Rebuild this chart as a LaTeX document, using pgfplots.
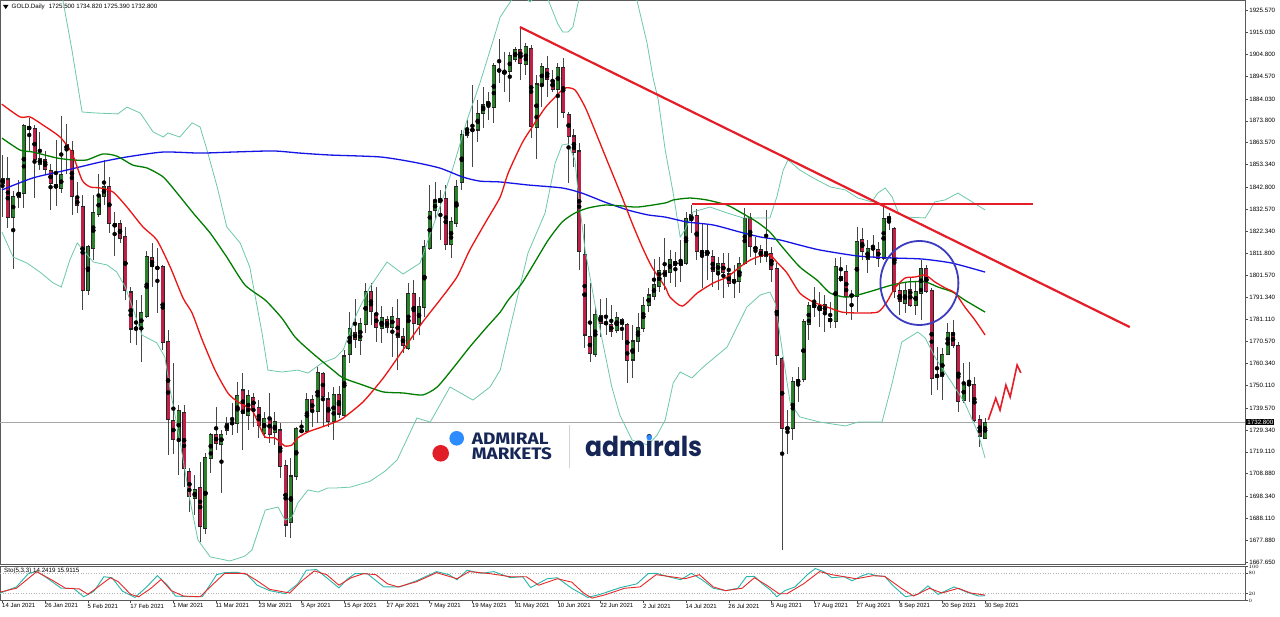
\documentclass[border=0pt]{standalone}
\usepackage{pgfplots}
\usepackage{pgfplotstable}
\pgfplotsset{compat=1.18}
\usepackage{fontspec}
\setmainfont{Liberation Sans}
\newfontfamily\logofont{Poppins}
\newfontfamily\firafont{Fira Sans}
\usepackage{graphicx}

\definecolor{upc}{RGB}{44,128,44}
\definecolor{dnc}{RGB}{190,32,72}
\definecolor{wick}{RGB}{70,70,70}
\definecolor{bbc}{RGB}{110,200,170}
\definecolor{mared}{RGB}{235,20,20}
\definecolor{magreen}{RGB}{0,125,0}
\definecolor{mablue}{RGB}{20,20,230}
\definecolor{trend}{RGB}{228,30,40}
\definecolor{circ}{RGB}{60,60,190}
\definecolor{stok}{RGB}{40,180,170}
\definecolor{stod}{RGB}{230,40,40}
\definecolor{navy}{RGB}{22,38,86}
\definecolor{lblue}{RGB}{45,140,255}
\definecolor{lred}{RGB}{225,30,40}

\newcommand{\sm}{\fontsize{6.2}{7}\selectfont}

\pgfplotstableread{
i o h l c
0 1844.6 1857.8 1829.0 1846.6
1 1846.6 1857.0 1823.5 1828.7
2 1828.7 1841.0 1804.4 1838.3
3 1838.0 1846.1 1833.2 1840.4
4 1839.9 1872.1 1832.9 1871.8
5 1871.1 1874.9 1859.4 1869.8
6 1870.3 1871.8 1837.6 1855.5
7 1853.5 1868.7 1850.8 1856.1
8 1855.5 1859.7 1848.8 1851.1
9 1850.5 1853.5 1832.1 1844.6
10 1843.8 1864.8 1834.0 1842.5
11 1842.2 1876.2 1839.9 1848.5
12 1862.5 1872.1 1848.8 1860.6
13 1860.1 1864.4 1829.8 1838.3
14 1837.3 1845.4 1830.6 1834.1
15 1833.7 1839.1 1785.4 1794.3
16 1794.3 1815.8 1792.4 1815.0
17 1814.2 1839.1 1808.7 1830.9
18 1830.1 1848.8 1829.0 1838.6
19 1838.6 1855.5 1834.4 1843.0
20 1843.3 1847.7 1821.2 1825.9
21 1825.6 1831.0 1810.8 1824.3
22 1825.6 1827.4 1816.5 1818.9
23 1819.6 1824.3 1790.1 1794.7
24 1793.8 1796.3 1769.8 1776.5
25 1777.1 1790.1 1769.0 1776.3
26 1776.5 1792.4 1761.2 1784.3
27 1782.3 1812.9 1781.5 1810.3
28 1809.8 1816.5 1796.3 1805.6
29 1805.2 1814.2 1783.8 1804.9
30 1805.6 1806.4 1766.7 1770.1
31 1770.6 1776.0 1717.6 1734.3
32 1733.7 1760.5 1718.1 1724.9
33 1724.6 1741.0 1708.3 1738.6
34 1737.6 1741.0 1702.8 1711.4
35 1709.8 1711.4 1691.1 1698.1
36 1697.4 1708.3 1689.6 1701.3
37 1702.5 1714.5 1677.1 1684.1
38 1683.3 1718.4 1680.7 1716.4
39 1716.1 1727.7 1709.0 1727.3
40 1727.0 1740.2 1720.0 1723.1
41 1722.6 1729.3 1699.7 1727.0
42 1729.3 1735.2 1727.0 1732.1
43 1732.4 1741.8 1727.0 1732.6
44 1732.4 1751.9 1727.7 1745.6
45 1748.0 1755.8 1720.0 1737.1
46 1736.3 1748.0 1729.3 1745.6
47 1744.6 1746.4 1730.9 1739.4
48 1739.9 1743.3 1725.4 1731.6
49 1727.7 1737.9 1725.4 1734.8
50 1734.8 1746.4 1723.1 1727.4
51 1728.1 1737.9 1722.3 1733.2
52 1729.3 1732.4 1706.7 1712.2
53 1712.9 1715.3 1679.5 1684.9
54 1686.0 1716.1 1678.7 1707.8
55 1707.5 1730.9 1705.9 1730.1
56 1728.7 1734.0 1727.7 1729.0
57 1728.5 1746.4 1727.7 1743.6
58 1743.6 1745.6 1730.9 1737.9
59 1737.9 1758.6 1732.4 1756.1
60 1755.8 1756.6 1730.9 1744.9
61 1743.8 1747.2 1730.9 1733.2
62 1733.2 1749.5 1724.6 1746.1
63 1746.1 1749.9 1734.7 1736.8
64 1736.3 1766.7 1735.5 1763.9
65 1764.4 1784.3 1760.5 1776.8
66 1774.9 1790.4 1767.5 1771.7
67 1771.0 1781.5 1764.4 1779.1
68 1778.4 1797.8 1774.5 1793.9
69 1793.9 1797.8 1778.4 1784.6
70 1783.5 1796.3 1770.6 1777.3
71 1776.8 1787.2 1769.8 1781.8
72 1781.0 1782.6 1774.5 1777.1
73 1777.3 1786.9 1763.6 1782.3
74 1781.5 1790.4 1757.3 1772.6
75 1772.9 1776.8 1765.1 1769.0
76 1767.5 1797.8 1766.7 1793.2
77 1793.2 1799.4 1771.3 1779.1
78 1778.8 1791.6 1773.7 1787.2
79 1786.6 1818.1 1782.3 1815.0
80 1814.2 1843.8 1813.4 1831.3
81 1831.8 1845.3 1827.4 1836.0
82 1835.5 1841.5 1818.1 1837.6
83 1837.3 1843.8 1813.4 1815.8
84 1815.8 1829.0 1809.5 1826.7
85 1825.6 1846.1 1824.3 1843.0
86 1844.9 1869.5 1841.5 1867.2
87 1866.8 1874.1 1865.6 1869.8
88 1869.2 1890.5 1852.4 1869.8
89 1869.5 1883.5 1864.0 1877.3
90 1877.0 1889.7 1870.3 1881.6
91 1882.7 1887.4 1874.2 1880.9
92 1880.1 1900.6 1872.9 1899.6
93 1897.9 1912.0 1891.3 1896.7
94 1896.0 1906.1 1887.4 1896.7
95 1896.7 1906.1 1882.7 1904.1
96 1902.5 1908.4 1901.4 1906.9
97 1907.2 1917.5 1892.9 1900.6
98 1899.9 1910.0 1895.2 1908.4
99 1907.7 1909.2 1865.6 1871.0
100 1870.6 1895.2 1855.8 1891.0
101 1890.5 1900.6 1880.4 1899.1
102 1898.3 1904.1 1885.1 1893.2
103 1892.4 1897.5 1887.4 1888.6
104 1888.5 1900.6 1870.3 1898.6
105 1898.6 1903.0 1874.9 1877.6
106 1876.8 1878.1 1844.6 1866.4
107 1866.7 1869.8 1852.4 1858.9
108 1859.7 1863.3 1804.1 1812.6
109 1811.4 1825.6 1767.5 1773.7
110 1772.9 1797.8 1761.2 1765.1
111 1764.4 1787.0 1763.6 1783.5
112 1782.6 1790.4 1772.9 1779.1
113 1779.5 1790.8 1773.7 1779.0
114 1778.4 1787.7 1772.9 1775.3
115 1776.0 1784.6 1774.5 1781.8
116 1781.0 1781.8 1771.3 1778.4
117 1778.4 1779.1 1751.1 1762.0
118 1762.0 1778.4 1753.4 1770.9
119 1770.6 1783.8 1765.9 1777.3
120 1776.8 1791.6 1775.3 1787.7
121 1787.4 1795.5 1784.6 1792.4
122 1791.9 1809.1 1790.0 1797.1
123 1796.3 1810.3 1793.9 1803.7
124 1803.8 1818.9 1794.7 1801.0
125 1802.8 1813.4 1797.8 1808.8
126 1808.0 1812.6 1796.3 1806.4
127 1806.4 1818.1 1798.6 1808.0
128 1807.2 1831.3 1806.4 1828.2
129 1827.4 1834.5 1821.2 1829.8
130 1829.5 1832.4 1808.8 1812.6
131 1811.1 1825.9 1795.5 1813.4
132 1813.0 1825.1 1799.4 1811.1
133 1810.3 1813.4 1796.3 1803.3
134 1803.3 1810.3 1794.7 1807.2
135 1807.2 1811.9 1790.8 1802.8
136 1802.2 1811.9 1796.3 1797.8
137 1798.2 1806.4 1790.8 1799.4
138 1798.6 1810.3 1793.1 1807.2
139 1807.2 1832.9 1806.4 1828.2
140 1828.5 1830.6 1810.3 1815.0
141 1814.4 1819.7 1806.4 1814.1
142 1813.7 1815.8 1807.2 1810.3
143 1810.6 1832.1 1808.0 1812.6
144 1811.9 1815.0 1798.6 1804.4
145 1804.9 1807.2 1759.7 1764.0
146 1762.8 1763.3 1673.2 1730.1
147 1730.6 1738.7 1718.1 1729.6
148 1730.1 1754.2 1724.6 1751.9
149 1751.1 1758.6 1742.5 1753.0
150 1752.7 1781.0 1751.9 1779.9
151 1778.4 1789.3 1771.4 1787.7
152 1786.6 1796.3 1782.3 1788.2
153 1785.4 1794.0 1777.6 1787.7
154 1787.7 1792.4 1775.3 1784.6
155 1779.9 1789.3 1776.8 1781.5
156 1779.9 1809.5 1776.8 1805.9
157 1801.0 1810.3 1798.6 1799.1
158 1803.3 1806.4 1783.0 1791.6
159 1791.6 1794.7 1780.7 1792.7
160 1791.6 1824.3 1784.6 1817.3
161 1818.4 1823.5 1808.8 1812.6
162 1809.0 1818.1 1802.5 1814.2
163 1813.7 1820.4 1809.5 1814.6
164 1813.7 1817.3 1805.6 1809.5
165 1809.5 1833.7 1808.8 1828.2
166 1829.0 1830.6 1822.8 1827.1
167 1823.5 1824.3 1790.8 1793.9
168 1794.4 1798.6 1783.0 1789.3
169 1788.5 1798.6 1783.8 1794.7
170 1795.0 1800.2 1786.9 1787.7
171 1787.7 1798.6 1783.0 1793.9
172 1793.2 1808.8 1780.7 1804.9
173 1804.9 1806.4 1793.2 1793.9
174 1794.7 1795.5 1745.7 1753.4
175 1754.7 1768.3 1748.0 1754.4
176 1754.2 1767.5 1743.3 1764.8
177 1764.8 1779.2 1764.4 1774.8
178 1774.8 1780.7 1767.5 1768.6
179 1768.6 1770.6 1737.9 1742.5
180 1743.0 1760.5 1741.8 1751.1
181 1751.1 1761.2 1742.5 1750.3
182 1750.6 1754.2 1733.2 1733.9
183 1734.3 1736.3 1721.5 1726.5
184 1725.5 1734.82 1725.39 1732.8
}\candles

\begin{document}
\begin{tikzpicture}
\useasboundingbox (0,0) rectangle (1280pt,-617pt);
\fill[white] (0,0) rectangle (1280pt,-617pt);

\begin{axis}[
  at={(0pt,0pt)}, anchor=north west,
  x=5.34pt, y=2.14pt,
  xmin=-0.47, xmax=232.7, ymin=1666.69, ymax=1930.24,
  axis line style={draw=black!65, line width=0.7pt},
  xtick=\empty,
  ytick={1925.57,1915.03,1904.80,1894.57,1884.03,1873.80,1863.57,1853.34,1842.80,1832.57,1822.34,1811.80,1801.57,1791.34,1781.11,1770.57,1760.34,1750.11,1739.57,1729.34,1719.11,1708.88,1698.34,1688.11,1677.88,1667.65},
  yticklabels={1925.570,1915.030,1904.800,1894.570,1884.030,1873.800,1863.570,1853.340,1842.800,1832.570,1822.340,1811.800,1801.570,1791.340,1781.110,1770.570,1760.340,1750.110,1739.570,1729.340,1719.110,1708.880,1698.340,1688.110,1677.880,1667.650},
  ytick pos=right, yticklabel pos=right,
  tick align=outside, major tick length=3pt,
  tick style={black!70, line width=0.5pt},
  yticklabel style={font=\sm, inner sep=1pt},
]
% current price line
\addplot[gray!70, line width=0.5pt] coordinates {(-0.47,1732.8) (232.7,1732.8)};

% wicks
\addplot[only marks, mark=none, error bars/.cd, y dir=both, y explicit, error mark=none,
  error bar style={line width=0.8pt, draw=wick}]
  table[x=i, y expr={(\thisrow{h}+\thisrow{l})/2}, y error expr={(\thisrow{h}-\thisrow{l})/2}] {\candles};
% body outlines
\addplot[only marks, mark=none, error bars/.cd, y dir=both, y explicit, error mark=none,
  error bar style={line width=4.0pt, draw=black!85}]
  table[x=i, y expr={(\thisrow{o}+\thisrow{c})/2}, y error expr={abs(\thisrow{c}-\thisrow{o})/2+0.25}] {\candles};
% up bodies
\addplot[only marks, mark=none, restrict expr to domain={\thisrow{c}-\thisrow{o}}{0:1000},
  error bars/.cd, y dir=both, y explicit, error mark=none,
  error bar style={line width=2.9pt, draw=upc}]
  table[x=i, y expr={(\thisrow{o}+\thisrow{c})/2}, y error expr={max(abs(\thisrow{c}-\thisrow{o})/2-0.25,0)}] {\candles};
% down bodies
\addplot[only marks, mark=none, restrict expr to domain={\thisrow{c}-\thisrow{o}}{-1000:0},
  error bars/.cd, y dir=both, y explicit, error mark=none,
  error bar style={line width=2.9pt, draw=dnc}]
  table[x=i, y expr={(\thisrow{o}+\thisrow{c})/2}, y error expr={max(abs(\thisrow{c}-\thisrow{o})/2-0.25,0)}] {\candles};

% Bollinger upper
\addplot[bbc, line width=0.8pt] coordinates {
(-0.47,1967.6) (5.15,1958.3) (9.8,1939.6) (11.3,1930.2) (13.0,1906.9) (14.9,1877.9) (17.7,1877.4) (21.6,1877.0) (23.3,1880.2) (25.8,1877.4) (28.2,1868.6) (30.1,1866.2) (31.0,1868.1) (33.2,1866.2) (35.5,1872.8) (37.0,1870.9) (38.3,1860.1) (40.2,1842.9) (42.0,1824.2) (44.5,1816.7) (46.3,1805.5) (48.6,1774.6) (49.7,1757.3) (52.3,1756.4) (55.3,1757.3) (57.2,1755.9) (59.8,1760.6) (62.3,1763.0) (63.8,1766.7) (66.4,1784.0) (68.8,1796.1) (72.0,1807.8) (75.0,1802.2) (78.2,1807.3) (79.5,1816.7) (81.9,1833.5) (84.4,1852.2) (87.0,1874.2) (89.4,1891.4) (91.9,1911.5) (93.2,1922.3) (95.4,1930.5) (97.0,1933.5) (98.8,1929.3) (100.5,1934.0) (102.2,1930.2) (104.0,1919.0) (104.9,1915.3) (105.9,1915.3) (106.8,1917.5) (107.8,1929.0) (110.0,1945.0) (114.7,1948.9) (117.5,1939.6) (118.8,1930.2) (120.7,1910.1) (121.8,1894.2) (122.8,1883.5) (124.1,1860.1) (125.6,1840.0) (126.9,1819.5) (127.8,1822.8) (129.3,1831.2) (132.5,1833.5) (135.7,1830.7) (138.7,1828.4) (141.9,1828.4) (143.7,1828.4) (145.0,1838.2) (146.2,1850.8) (147.1,1855.5) (149.3,1850.8) (151.8,1847.1) (155.0,1842.9) (157.8,1841.5) (160.2,1837.7) (162.8,1835.9) (163.9,1840.0) (165.3,1842.4) (166.6,1838.2) (167.7,1831.2) (169.0,1828.8) (172.8,1828.4) (174.6,1835.9) (176.5,1836.8) (178.9,1840.0) (181.6,1835.9) (184.0,1832.1)};
% Bollinger lower
\addplot[bbc, line width=0.8pt] coordinates {
(-0.1,1821.8) (2.0,1810.1) (4.6,1807.3) (7.0,1803.1) (9.5,1798.0) (11.0,1796.1) (12.6,1808.7) (14.0,1816.7) (17.0,1807.8) (19.6,1806.4) (21.4,1803.1) (23.0,1796.1) (24.4,1786.3) (26.1,1773.7) (28.9,1770.0) (30.4,1763.4) (31.4,1748.0) (33.2,1724.6) (35.1,1696.6) (36.6,1677.9) (38.9,1670.0) (42.6,1668.1) (45.4,1670.4) (46.7,1673.2) (49.2,1691.9) (51.6,1693.3) (52.9,1687.2) (54.2,1688.6) (55.3,1695.2) (57.2,1701.3) (59.1,1700.3) (60.9,1702.2) (62.3,1702.2) (65.1,1702.6) (68.8,1705.3) (71.6,1710.0) (73.9,1715.3) (77.6,1734.9) (80.1,1733.0) (83.8,1749.4) (88.1,1743.3) (91.3,1749.4) (93.2,1757.3) (95.4,1780.7) (98.4,1812.0) (101.6,1830.7) (103.5,1854.1) (104.8,1862.5) (105.9,1863.0) (107.2,1855.5) (107.8,1840.0) (109.1,1813.4) (110.9,1788.6) (112.8,1765.3) (114.1,1749.4) (115.6,1736.3) (117.9,1724.6) (120.9,1722.3) (122.6,1727.0) (124.1,1734.0) (125.6,1751.3) (126.9,1756.4) (129.1,1753.6) (131.2,1758.7) (135.7,1768.1) (139.4,1786.8) (141.9,1792.4) (143.7,1793.8) (144.7,1788.6) (146.2,1763.4) (147.5,1742.1) (149.3,1735.4) (153.1,1733.0) (157.8,1731.2) (160.2,1733.0) (164.7,1733.0) (166.6,1751.3) (168.4,1770.4) (171.4,1775.1) (172.8,1772.3) (174.6,1763.4) (177.8,1751.3) (180.2,1741.9) (182.7,1727.9) (184.0,1716.2)};

% blue MA
\addplot[mablue, line width=1.3pt, smooth, tension=0.4] coordinates {
(-0.1,1841.5) (5.7,1847.1) (12.1,1850.8) (18.3,1854.5) (23.3,1856.9) (30.1,1859.2) (37.0,1858.7) (43.2,1859.2) (50.7,1859.7) (55.7,1858.7) (61.3,1857.8) (70.7,1856.9) (76.9,1854.5) (81.9,1851.7) (86.2,1847.5) (89.4,1845.6) (93.2,1845.2) (98.4,1843.8) (104.8,1842.4) (108.5,1840.0) (112.8,1835.8) (117.1,1832.1) (120.9,1829.8) (124.1,1828.8) (128.2,1826.5) (133.1,1825.1) (138.1,1821.8) (141.9,1819.5) (145.6,1818.1) (149.3,1815.7) (153.1,1813.4) (160.2,1810.6) (166.6,1809.7) (172.2,1809.2) (177.8,1807.3) (184.0,1803.1)};
% green MA
\addplot[magreen, line width=1.3pt, smooth, tension=0.4] coordinates {
(-0.1,1865.7) (3.3,1860.1) (5.7,1859.2) (10.2,1856.4) (13.2,1855.5) (15.8,1855.5) (18.8,1858.3) (21.4,1857.3) (24.4,1853.1) (27.1,1851.7) (30.1,1847.5) (32.7,1840.0) (35.7,1830.7) (38.9,1821.3) (42.0,1810.1) (45.4,1797.1) (49.2,1790.0) (52.3,1781.6) (54.8,1772.7) (58.0,1765.3) (62.3,1756.4) (63.8,1753.6) (67.5,1750.3) (71.3,1747.1) (75.0,1746.6) (78.7,1745.7) (81.4,1749.4) (84.4,1758.3) (87.5,1768.1) (90.7,1777.4) (93.2,1784.4) (94.7,1790.0) (97.3,1798.0) (99.7,1807.8) (102.2,1818.1) (104.8,1826.5) (107.2,1830.7) (109.6,1833.0) (112.8,1834.4) (116.0,1834.0) (119.0,1833.5) (124.1,1835.4) (125.6,1836.8) (128.7,1837.7) (131.9,1836.8) (135.7,1834.4) (138.1,1831.2) (141.3,1826.5) (143.7,1821.8) (146.2,1814.3) (149.3,1805.5) (152.5,1799.4) (155.0,1793.3) (157.8,1791.4) (160.2,1792.4) (163.4,1794.7) (166.6,1797.1) (169.6,1798.5) (172.8,1798.5) (175.2,1796.1) (177.9,1793.8) (180.2,1790.0) (184.0,1784.4)};
% red MA
\addplot[mared, line width=1.3pt, smooth, tension=0.4] coordinates {
(-0.15,1881.6) (3.28,1875.6) (5.15,1875.6) (7.58,1871.8) (10.77,1866.2) (13.0,1858.7) (14.9,1846.1) (16.4,1842.9) (18.3,1842.4) (20.7,1840.5) (23.3,1833.5) (26.3,1824.2) (28.9,1818.1) (31.4,1805.5) (33.8,1791.0) (35.5,1784.0) (37.4,1771.4) (39.8,1757.3) (42.2,1746.6) (44.1,1742.4) (46.7,1738.6) (48.2,1730.7) (49.2,1726.0) (51.0,1725.6) (52.0,1723.7) (52.9,1721.8) (54.2,1722.3) (55.3,1725.6) (57.2,1728.4) (59.8,1730.7) (62.3,1733.0) (63.8,1734.9) (67.5,1742.4) (71.3,1753.6) (75.0,1766.7) (78.7,1779.8) (81.9,1790.0) (85.1,1800.8) (87.5,1813.4) (90.7,1827.4) (93.2,1838.2) (94.7,1849.4) (97.3,1863.4) (99.2,1870.9) (101.6,1879.8) (103.5,1884.9) (105.3,1889.1) (107.2,1888.2) (109.1,1880.2) (110.9,1869.5) (113.4,1854.1) (116.0,1838.2) (117.9,1826.0) (119.8,1814.8) (121.6,1805.5) (124.1,1796.1) (125.0,1791.4) (127.3,1787.2) (130.1,1793.3) (133.1,1798.0) (135.7,1800.8) (138.1,1805.5) (140.0,1808.7) (141.9,1810.6) (143.7,1811.1) (145.0,1807.8) (146.9,1802.7) (149.3,1793.3) (151.8,1789.1) (154.4,1786.8) (157.2,1784.4) (160.2,1784.0) (163.9,1784.4) (165.6,1789.1) (167.1,1795.7) (169.0,1800.3) (170.9,1800.8) (172.8,1801.7) (174.6,1798.5) (176.5,1795.7) (178.4,1793.3) (180.2,1786.8) (182.1,1780.7) (184.0,1773.7)};

% annotations
\addplot[trend, line width=2.2pt] coordinates {(96.9,1917.6) (211.1,1777.4)};
\addplot[trend, line width=1.8pt] coordinates {(129.1,1834.9) (193.0,1834.9)};
\addplot[trend, line width=1.6pt] coordinates {(184.6,1734.0) (186.0,1744.2) (186.8,1738.6) (187.9,1750.3) (188.7,1744.7) (190.0,1759.7) (190.7,1756.0)};
\draw[circ, line width=1.8pt] (axis cs:171.7,1798.0) ellipse [x radius=39pt, y radius=42pt];
\end{axis}

\begin{axis}[
  at={(0pt,-566.5pt)}, anchor=north west,
  x=5.34pt, y=0.34pt,
  xmin=-0.47, xmax=232.7, ymin=0, ymax=100,
  axis line style={draw=black!65, line width=0.7pt},
  xtick={0,8,...,184},
  xticklabels={14 Jan 2021,26 Jan 2021,5 Feb 2021,17 Feb 2021,1 Mar 2021,11 Mar 2021,23 Mar 2021,5 Apr 2021,15 Apr 2021,27 Apr 2021,7 May 2021,19 May 2021,31 May 2021,10 Jun 2021,22 Jun 2021,2 Jul 2021,14 Jul 2021,26 Jul 2021,5 Aug 2021,17 Aug 2021,27 Aug 2021,8 Sep 2021,20 Sep 2021,30 Sep 2021},
  xtick pos=bottom, ytick pos=right, yticklabel pos=right,
  ytick={0,20,80,100},
  tick align=outside, major tick length=2.5pt,
  tick style={black!70, line width=0.5pt},
  xticklabel style={font=\fontsize{6}{7}\selectfont, anchor=north west, inner sep=0.5pt, xshift=-1pt},
  yticklabel style={font=\fontsize{5.5}{6}\selectfont, inner sep=0.8pt},
]
\addplot[gray!60, dotted, line width=0.6pt] coordinates {(-0.47,20) (232.7,20)};
\addplot[gray!60, dotted, line width=0.6pt] coordinates {(-0.47,80) (232.7,80)};
\addplot[stok, line width=0.9pt] coordinates {
(-0.4,22) (2.6,40) (4.9,80) (6.4,85) (7.9,71) (11.0,36) (13.3,36) (15.2,11) (17.1,27) (19.0,70) (20.5,67) (22.5,27) (24.8,9) (27.0,40) (29.0,73) (30.9,45) (32.4,13) (35.5,11) (37.4,11) (40.1,76) (41.6,82) (43.9,83) (45.8,76) (47.7,45) (50.0,29) (53.0,20) (55.3,49) (56.9,89) (58.8,91) (60.7,67) (63.0,37) (64.5,62) (66.0,79) (68.3,79) (71.4,40) (74.4,40) (77.5,58) (81.3,85) (83.6,76) (85.1,61) (87.0,89) (89.7,80) (92.0,85) (95.1,67) (97.4,70) (98.9,38) (102.0,64) (103.9,67) (106.6,36) (109.6,9) (111.9,18) (115.7,38) (118.8,49) (120.9,79) (122.4,80) (124.7,70) (127.0,61) (129.0,80) (130.9,62) (133.1,36) (135.4,29) (137.7,36) (139.3,70) (140.8,71) (142.3,49) (143.8,31) (145.0,11) (146.5,29) (148.4,40) (150.7,76) (152.2,94) (153.8,85) (155.3,67) (157.6,70) (159.1,58) (161.0,73) (162.2,79) (163.7,73) (165.2,71) (166.8,43) (169.1,11) (171.4,18) (173.3,43) (175.2,18) (178.2,40) (180.5,25) (182.8,13) (184,14.2)};
\addplot[stod, line width=0.9pt] coordinates {
(-0.4,25) (2.6,36) (6.4,85) (9.5,58) (11.8,36) (14.4,34) (16.0,18) (17.9,40) (20.2,67) (21.7,55) (24.0,18) (25.5,11) (27.8,36) (29.7,62) (31.6,29) (33.9,13) (37.0,11) (40.1,58) (41.6,80) (45.4,80) (47.7,58) (50.0,33) (53.8,22) (56.1,58) (58.4,87) (60.7,76) (63.0,45) (65.3,67) (67.6,79) (69.9,76) (72.1,49) (74.1,40) (77.5,55) (81.3,82) (85.1,64) (87.4,85) (91.3,79) (95.1,70) (98.1,70) (100.4,45) (103.9,64) (106.6,54) (108.8,22) (110.4,7) (112.7,16) (116.5,36) (119.4,40) (122.4,76) (124.7,71) (127.8,64) (130.5,76) (133.1,40) (135.4,29) (138.5,36) (140.8,67) (143.1,45) (145.4,20) (146.9,20) (150.0,49) (153.0,85) (155.3,76) (157.6,70) (159.9,64) (163.0,73) (165.2,71) (168.3,36) (170.6,13) (173.6,36) (175.9,22) (179.0,36) (181.3,22) (184,15.9)};
\end{axis}

% header
\fill[black] (3pt,-5pt) -- (8.5pt,-5pt) -- (5.75pt,-9pt) -- cycle;
\node[anchor=west, inner sep=0pt, font=\sm] at (11.5pt,-7pt) {GOLD.Daily\hspace{4pt}1725.500 1734.820 1725.390 1732.800};
\node[anchor=west, inner sep=0pt, font=\sm] at (4pt,-571pt) {Sto(5,3,3) 14.2419 15.9115};
% current price box
\node[anchor=west, fill=black, text=white, inner xsep=1.2pt, inner ysep=0.8pt, font=\sm] at (1246pt,-422.4pt) {1732.800};

% logo
\fill[lred] (440.7pt,-453.3pt) circle (8.3pt);
\fill[lblue] (456.7pt,-438.3pt) circle (7.3pt);
\node[anchor=south west, inner sep=0pt, text=navy] at (471.7pt,-444.5pt) {\resizebox{76.6pt}{11.5pt}{\firafont\bfseries ADMIRAL}};
\node[anchor=south west, inner sep=0pt, text=navy] at (471.7pt,-460pt) {\resizebox{80pt}{11.8pt}{\firafont\bfseries MARKETS}};
\draw[gray!35, line width=0.7pt] (569pt,-425pt) -- (569pt,-468pt);
\node[anchor=south west, inner sep=0pt, text=navy] at (585pt,-457pt) {\resizebox{117pt}{22pt}{\logofont\bfseries admirals}};
\fill[lblue] (649.3pt,-437.7pt) circle (2.7pt);
\end{tikzpicture}
\end{document}
